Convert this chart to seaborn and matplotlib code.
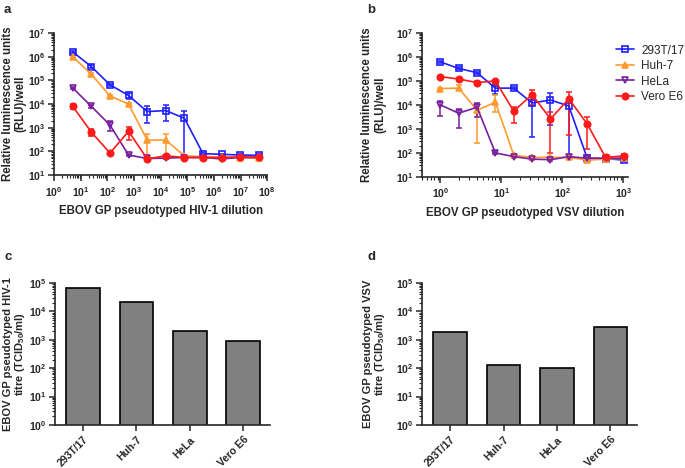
import matplotlib
matplotlib.use("Agg")
import matplotlib.pyplot as plt
import matplotlib.ticker as mticker
import numpy as np
import pandas as pd
import seaborn as sns

# cell lines and colours
cells = ["293T/17", "Huh-7", "HeLa", "Vero E6"]
colors = {"293T/17": "#1f1fff", "Huh-7": "#ff9a30", "HeLa": "#7a1fa0", "Vero E6": "#ff1a1a"}
markers = {"293T/17": "s", "Huh-7": "^", "HeLa": "v", "Vero E6": "o"}
open_marker = {"293T/17": True, "Huh-7": False, "HeLa": True, "Vero E6": False}

# panel a: HIV-1 pseudotype, 5-fold dilutions
hiv_dilution = [5, 25, 125, 625, 3125, 15625, 78125, 390625, 1953125, 9765625, 48828125]
hiv_rlu = {
    "293T/17": [1.6e6, 3.8e5, 6.5e4, 2.3e4, 4.8e3, 5.3e3, 2.5e3, 80, 75, 70, 68],
    "Huh-7":   [1.0e6, 1.8e5, 2.2e4, 1.0e4, 300, 300, 65, 60, 58, 55, 50],
    "HeLa":    [4.8e4, 8.0e3, 1.3e3, 70, 50, 52, 55, 55, 48, 55, 55],
    "Vero E6": [8.0e3, 650, 85, 700, 48, 65, 55, 55, 55, 58, 58],
}
hiv_lo = {
    "293T/17": [1.4e6, 3.3e5, 5.8e4, 1.7e4, 1.6e3, 2.0e3, 60, 75, 70, 65, 62],
    "Huh-7":   [0.9e6, 1.6e5, 2.0e4, 0.9e4, 60, 60, 60, 55, 54, 50, 44],
    "HeLa":    [4.2e4, 6.5e3, 700, 65, 45, 48, 50, 50, 42, 50, 50],
    "Vero E6": [6.0e3, 450, 80, 300, 44, 58, 50, 50, 50, 52, 52],
}
hiv_hi = {
    "293T/17": [1.8e6, 4.3e5, 7.2e4, 3.0e4, 8.0e3, 9.0e3, 5.0e3, 85, 80, 75, 74],
    "Huh-7":   [1.1e6, 2.0e5, 2.4e4, 1.1e4, 550, 520, 70, 65, 62, 60, 56],
    "HeLa":    [5.4e4, 9.5e3, 2.0e3, 75, 55, 56, 60, 60, 54, 60, 60],
    "Vero E6": [1.0e4, 900, 90, 1100, 52, 72, 60, 60, 60, 64, 64],
}

# panel b: VSV pseudotype, 2-fold dilutions
vsv_dilution = [1, 2, 4, 8, 16, 32, 64, 128, 256, 512, 1024]
vsv_rlu = {
    "293T/17": [6.2e5, 3.3e5, 2.2e5, 5.0e4, 5.0e4, 1.2e4, 1.6e4, 9.0e3, 60, 58, 50],
    "Huh-7":   [4.8e4, 5.0e4, 6.0e3, 1.3e4, 80, 65, 65, 65, 50, 55, 60],
    "HeLa":    [1.0e4, 4.5e3, 8.0e3, 100, 70, 55, 52, 70, 60, 60, 60],
    "Vero E6": [1.5e5, 1.2e5, 8.5e4, 1.0e5, 5.5e3, 2.7e4, 2.6e3, 1.8e4, 1.6e3, 65, 75],
}
vsv_lo = {
    "293T/17": [5.6e5, 3.0e5, 2.0e5, 2.8e4, 4.5e4, 450, 1.4e3, 60, 55, 54, 45],
    "Huh-7":   [4.3e4, 4.0e4, 250, 5.0e3, 75, 60, 60, 58, 45, 50, 55],
    "HeLa":    [3.5e3, 1.1e3, 3.0e3, 90, 65, 50, 48, 62, 55, 55, 55],
    "Vero E6": [1.35e5, 1.05e5, 7.5e4, 9.0e4, 1.7e3, 1.0e4, 100, 550, 150, 58, 65],
}
vsv_hi = {
    "293T/17": [6.8e5, 3.7e5, 2.4e5, 6.0e4, 5.5e4, 2.5e4, 3.0e4, 1.5e4, 65, 62, 55],
    "Huh-7":   [5.3e4, 7.0e4, 1.0e4, 2.5e4, 85, 70, 70, 72, 55, 60, 65],
    "HeLa":    [1.5e4, 7.0e3, 1.2e4, 110, 75, 60, 56, 78, 65, 65, 65],
    "Vero E6": [1.65e5, 1.35e5, 9.5e4, 1.1e5, 8.0e3, 4.0e4, 5.0e3, 3.5e4, 3.0e3, 72, 90],
}

# panels c and d: titres
hiv_titre = [6.5e4, 2.2e4, 2.0e3, 900]
vsv_titre = [1.9e3, 130, 100, 2.9e3]

sns.set_theme(style="ticks")
plt.rcParams["font.family"] = ["Liberation Sans", "DejaVu Sans"]
plt.rcParams["mathtext.fontset"] = "custom"
plt.rcParams["mathtext.rm"] = "Liberation Sans:bold"
plt.rcParams["mathtext.bf"] = "Liberation Sans:bold"
plt.rcParams["mathtext.it"] = "Liberation Sans:bold:italic"
plt.rcParams["mathtext.default"] = "bf"
plt.rcParams["axes.linewidth"] = 1.2

fig = plt.figure(figsize=(6.85, 4.68), dpi=100)
ax_a = fig.add_axes([0.079, 0.626, 0.311, 0.3034])
ax_b = fig.add_axes([0.616, 0.622, 0.301, 0.3077])
ax_c = fig.add_axes([0.080, 0.092, 0.314, 0.3034])
ax_d = fig.add_axes([0.616, 0.092, 0.314, 0.3034])

LABEL_SIZE = 8.3


def log_ticks(axis):
    axis.set_major_locator(mticker.LogLocator(base=10, numticks=12))
    axis.set_minor_locator(mticker.LogLocator(base=10, subs=np.arange(2, 10), numticks=12))
    axis.set_major_formatter(mticker.LogFormatterMathtext())
    axis.set_minor_formatter(mticker.NullFormatter())


def style_axes(ax):
    sns.despine(ax=ax)
    ax.tick_params(axis="both", which="major", labelsize=7.5, width=1.1, length=4, pad=2)
    ax.tick_params(axis="x", which="major", pad=3)
    ax.tick_params(axis="both", which="minor", width=0.8, length=2.3)
    for lab in ax.get_xticklabels() + ax.get_yticklabels():
        lab.set_fontweight("bold")


def dilution_plot(ax, dil, rlu, lo, hi):
    for c in cells:
        y = np.array(rlu[c])
        yl = y - np.array(lo[c])
        yh = np.array(hi[c]) - y
        ax.errorbar(dil, y, yerr=[yl, yh], fmt="none", ecolor=colors[c],
                    elinewidth=1.1, capsize=2.5, capthick=1.1, zorder=2)
        mfc = "none" if open_marker[c] else colors[c]
        sns.lineplot(x=dil, y=y, ax=ax, color=colors[c], marker=markers[c],
                     markersize=4.6, markerfacecolor=mfc, markeredgecolor=colors[c],
                     markeredgewidth=1.2, linewidth=1.2, label=c, zorder=3)
    ax.set_xscale("log")
    ax.set_yscale("log")
    ax.set_ylim(10, 1e7)
    log_ticks(ax.xaxis)
    log_ticks(ax.yaxis)
    ax.set_ylabel("Relative luminescence units\n(RLU)/well", fontsize=LABEL_SIZE,
                  fontweight="bold", linespacing=1.05)


dilution_plot(ax_a, hiv_dilution, hiv_rlu, hiv_lo, hiv_hi)
ax_a.set_xlim(1, 1e8)
log_ticks(ax_a.xaxis)
ax_a.set_xlabel("EBOV GP pseudotyped HIV-1 dilution", fontsize=LABEL_SIZE,
                fontweight="bold", labelpad=5)
ax_a.yaxis.set_label_coords(-0.131, 0.5)
ax_a.get_legend().remove()

dilution_plot(ax_b, vsv_dilution, vsv_rlu, vsv_lo, vsv_hi)
ax_b.set_xlim(0.5, 1200)
log_ticks(ax_b.xaxis)
ax_b.set_xlabel("EBOV GP pseudotyped VSV dilution", fontsize=LABEL_SIZE,
                fontweight="bold", labelpad=5)
ax_b.yaxis.set_label_coords(-0.175, 0.5)
handles, labels = ax_b.get_legend_handles_labels()
ax_b.get_legend().remove()
fig.legend(handles, labels, loc="upper left", bbox_to_anchor=(0.893, 0.915),
           frameon=False, fontsize=8.5, handlelength=1.5, labelspacing=0.3,
           handletextpad=0.6, borderaxespad=0)


def titre_plot(ax, titre, ylabel):
    df = pd.DataFrame({"cell": cells, "titre": titre})
    sns.barplot(data=df, x="cell", y="titre", ax=ax, color="#808080",
                edgecolor="black", linewidth=1.2, width=0.63, saturation=1)
    ax.set_yscale("log")
    ax.set_ylim(1, 1e5)
    ax.set_xlim(-0.53, 3.5)
    log_ticks(ax.yaxis)
    ax.set_xlabel("")
    ax.set_ylabel(ylabel, fontsize=8.0, fontweight="bold", linespacing=1.0)
    ax.tick_params(axis="x", rotation=45)
    for lab in ax.get_xticklabels():
        lab.set_ha("right")
        lab.set_rotation_mode("anchor")


titre_plot(ax_c, hiv_titre, "EBOV GP pseudotyped HIV-1\ntitre (TCID$_{50}$/ml)")
titre_plot(ax_d, vsv_titre, "EBOV GP pseudotyped VSV\ntitre (TCID$_{50}$/ml)")
ax_c.yaxis.set_label_coords(-0.128, 0.5)
ax_d.yaxis.set_label_coords(-0.163, 0.5)

for ax in (ax_a, ax_b, ax_c, ax_d):
    style_axes(ax)
for ax in (ax_c, ax_d):
    for lab in ax.get_xticklabels():
        lab.set_fontsize(7.6)

for letter, (x, y) in zip("abcd", [(0.006, 0.992), (0.536, 0.992), (0.006, 0.463), (0.536, 0.463)]):
    fig.text(x, y, letter, fontsize=9.5, fontweight="bold", va="top", ha="left")

fig.savefig("out.png", dpi=100)
